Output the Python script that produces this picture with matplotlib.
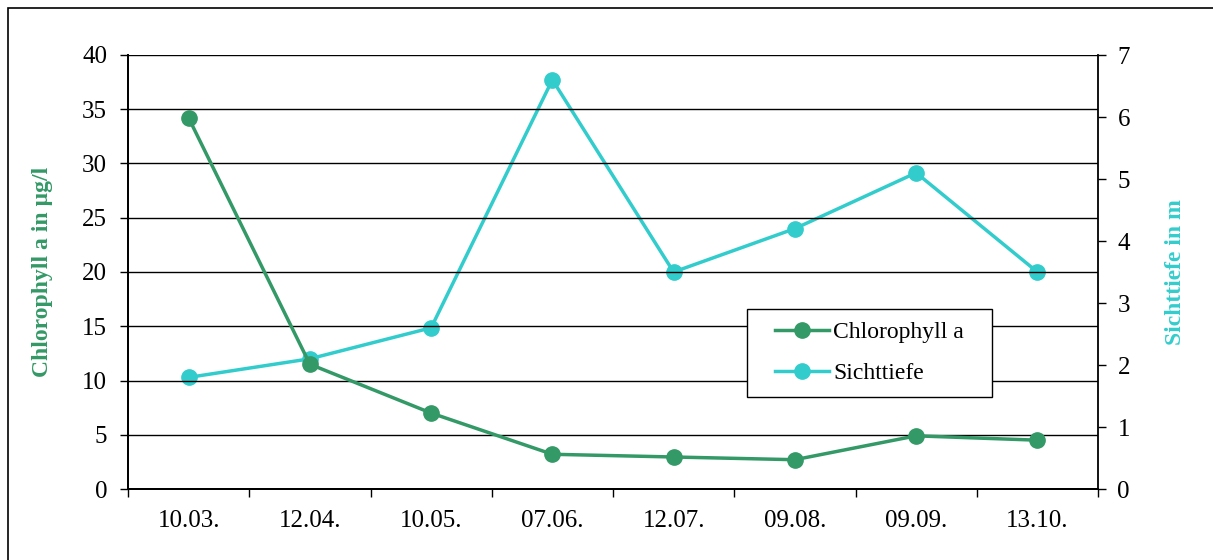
import matplotlib
matplotlib.use("Agg")
import matplotlib.pyplot as plt
import numpy as np
from matplotlib.patches import Rectangle

plt.rcParams["font.family"] = ["Liberation Serif", "DejaVu Serif"]

dates = ["10.03.", "12.04.", "10.05.", "07.06.", "12.07.", "09.08.", "09.09.", "13.10."]
chlorophyll = [34.2, 11.5, 7.0, 3.2, 2.95, 2.7, 4.9, 4.5]
sichttiefe = [1.8, 2.1, 2.6, 6.6, 3.5, 4.2, 5.1, 3.5]

GREEN = "#339966"
CYAN = "#33CCCC"

fig = plt.figure(figsize=(12.13, 5.6), dpi=100)
ax = fig.add_axes([128/1213, 71/560, 970/1213, 434/560])
ax2 = ax.twinx()

x = np.arange(len(dates))
l1, = ax.plot(x, chlorophyll, color=GREEN, lw=2.5, marker="o", ms=11, label="Chlorophyll a", zorder=3)
l2, = ax2.plot(x, sichttiefe, color=CYAN, lw=2.5, marker="o", ms=11, label="Sichttiefe", zorder=3)

ax.set_xlim(-0.5, len(dates) - 0.5)
ax.set_ylim(0, 40)
ax.set_yticks(range(0, 41, 5))
ax2.set_ylim(0, 7)
ax2.set_yticks(range(0, 8))

ax.set_xticks(x)
ax.set_xticklabels(dates, fontsize=18)
ax.set_xticks(np.arange(-0.5, len(dates)), minor=True)
ax.tick_params(axis="x", which="major", length=0, pad=15)
ax.tick_params(axis="x", which="minor", length=6, width=1, direction="out")
ax.tick_params(axis="y", labelsize=18, length=6, width=1, direction="out", pad=9)
ax2.tick_params(axis="y", labelsize=18, length=6, width=1, direction="out", pad=8)

ax.yaxis.grid(True, color="black", lw=1)
ax.set_axisbelow(True)

for a in (ax, ax2):
    a.spines["top"].set_visible(False)
    for s in ("left", "right", "bottom"):
        a.spines[s].set_linewidth(1.3)
ax.spines["right"].set_visible(False)

ax.set_ylabel("Chlorophyll a in µg/l", color=GREEN, fontsize=17, fontweight="bold")
ax2.set_ylabel("Sichttiefe in m", color=CYAN, fontsize=17, fontweight="bold")
ax.yaxis.set_label_coords(-75/970, 0.5)
ax2.yaxis.set_label_coords(1 + 67/970, 0.5)

ax.set_zorder(ax2.get_zorder() + 1)
ax.patch.set_visible(False)

# legend box drawn by hand so the side padding can be wider than the top/bottom padding
ax.add_patch(Rectangle((0.6381, 0.2120), 0.2526, 0.2028, transform=ax.transAxes,
                       facecolor="white", edgecolor="black", lw=1, zorder=4))
ax.legend([l1, l2], ["Chlorophyll a", "Sichttiefe"], loc="center",
          bbox_to_anchor=(0.7644, 0.3134), fontsize=17, frameon=False,
          handlelength=2.29, handletextpad=0.2, borderpad=0, labelspacing=0.82)

fig.patches.append(Rectangle((8/1213, -0.1), 1.2, 0.1 + 552/560, transform=fig.transFigure,
                             fill=False, edgecolor="black", lw=1.2))

fig.savefig("out.png", dpi=100)
